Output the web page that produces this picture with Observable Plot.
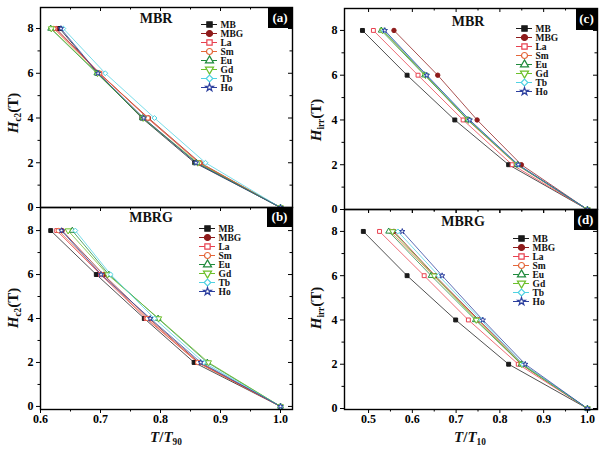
<!DOCTYPE html>
<html>
<head>
<meta charset="utf-8">
<script src="https://cdn.jsdelivr.net/npm/d3@7"></script>
<script src="https://cdn.jsdelivr.net/npm/@observablehq/plot@0.6"></script>
<style>
  body { margin: 0; background: #fff; }
  #fig { position: relative; width: 601px; height: 450px; overflow: hidden; background: #fff;
         font-family: "Liberation Serif", "Times New Roman", serif; font-weight: bold; color: #111; }
  #fig svg { position: absolute; overflow: visible; background: transparent; }
  .ytitle { position: absolute; transform: translate(-50%, -50%) rotate(-90deg); white-space: nowrap;
            font-size: 15px; line-height: 1; }
  .xtitle { position: absolute; transform: translate(-50%, -50%); white-space: nowrap; font-size: 15px; line-height: 1; }
  .sub { font-size: 0.62em; position: relative; top: 0.35em; font-style: normal; }
  .tag { position: absolute; background: #000; color: #fff; font-size: 13px; display: flex;
         align-items: center; justify-content: center; }
  .ttl { position: absolute; transform: translate(-50%, -50%); font-size: 14px; white-space: nowrap; }
</style>
</head>
<body>
<div id="fig"></div>
<script>
// Samples (legend order), colours and markers
const samples = ["MB", "MBG", "La", "Sm", "Eu", "Gd", "Tb", "Ho"];
const colors  = ["#1a1a1a", "#8e1b1b", "#e8404f", "#e4673a", "#1f8a3c", "#6cbf2a", "#4fd2e2", "#2c3f9e"];
const fills   = ["#1a1a1a", "#8e1b1b", "#fff", "#fff", "#fff", "#fff", "#fff", "#fff"];

// Magnetic field levels (T) at which the reduced temperature was taken
const fields = [8, 6, 4, 2, 0];

// Reduced temperature per sample (rows follow `samples`, columns follow `fields`)
const hc2MBR = [
  [0.632, 0.695, 0.769, 0.857, 1.0],
  [0.626, 0.698, 0.780, 0.866, 1.0],
  [0.624, 0.699, 0.778, 0.864, 1.0],
  [0.622, 0.698, 0.779, 0.865, 1.0],
  [0.617, 0.694, 0.770, 0.860, 1.0],
  [0.618, 0.695, 0.771, 0.862, 1.0],
  [0.638, 0.708, 0.790, 0.875, 1.0],
  [0.634, 0.696, 0.772, 0.859, 1.0]
];
const hc2MBRG = [
  [0.617, 0.693, 0.773, 0.856, 1.0],
  [0.636, 0.705, 0.781, 0.864, 1.0],
  [0.627, 0.700, 0.776, 0.862, 1.0],
  [0.630, 0.702, 0.778, 0.862, 1.0],
  [0.653, 0.714, 0.796, 0.878, 1.0],
  [0.646, 0.712, 0.797, 0.880, 1.0],
  [0.658, 0.717, 0.790, 0.872, 1.0],
  [0.635, 0.701, 0.783, 0.867, 1.0]
];
const hirrMBR = [
  [0.486, 0.588, 0.697, 0.820, 1.0],
  [0.558, 0.658, 0.748, 0.849, 1.0],
  [0.511, 0.613, 0.716, 0.828, 1.0],
  [0.533, 0.630, 0.726, 0.838, 1.0],
  [0.529, 0.628, 0.727, 0.840, 1.0],
  [0.532, 0.630, 0.728, 0.840, 1.0],
  [0.535, 0.632, 0.730, 0.841, 1.0],
  [0.537, 0.633, 0.731, 0.842, 1.0]
];
const hirrMBRG = [
  [0.488, 0.588, 0.699, 0.820, 1.0],
  [0.558, 0.652, 0.752, 0.852, 1.0],
  [0.525, 0.627, 0.728, 0.842, 1.0],
  [0.550, 0.648, 0.750, 0.848, 1.0],
  [0.546, 0.643, 0.744, 0.849, 1.0],
  [0.555, 0.650, 0.746, 0.850, 1.0],
  [0.567, 0.660, 0.757, 0.853, 1.0],
  [0.577, 0.668, 0.761, 0.858, 1.0]
];

// Axis ticks
const yTicks = [0, 2, 4, 6, 8];
const yMinor = [1, 3, 5, 7];
const xTicksT90 = [0.6, 0.7, 0.8, 0.9, 1.0];
const xMinorT90 = [0.65, 0.75, 0.85, 0.95];
const xTicksT10 = [0.5, 0.6, 0.7, 0.8, 0.9, 1.0];
const xMinorT10 = [0.55, 0.65, 0.75, 0.85, 0.95];

// Downward-pointing triangle (d3 only ships the upward one)
const sqrt3 = Math.sqrt(3);
const triangleDown = {
  draw(context, size) {
    const y = -Math.sqrt(size / (sqrt3 * 3));
    context.moveTo(0, -y * 2);
    context.lineTo(-sqrt3 * y, y);
    context.lineTo(sqrt3 * y, y);
    context.closePath();
  }
};
const symbols = ["square", "circle", "square", "circle", "triangle", triangleDown, "diamond2", "star"];
const fillOf = Object.fromEntries(samples.map((s, i) => [s, fills[i]]));
const isStar = s => s === "Ho";   // the star glyph spreads wider, so it is drawn a little smaller

function toRows(table) {
  return samples.flatMap((s, i) => fields.map((f, j) => ({sample: s, field: f, t: table[i][j]})));
}

const fig = document.getElementById("fig");
const font = {fontFamily: "'Liberation Serif', 'Times New Roman', serif", fontWeight: "bold", fontSize: "12px"};

function panel(table, cfg) {
  const rows = toRows(table);
  const fw = cfg.width - cfg.ml - cfg.mr;
  const fh = cfg.height - cfg.mt - cfg.mb;
  const kx = (cfg.x[1] - cfg.x[0]) / fw;   // data units per pixel
  const ky = (cfg.y[1] - cfg.y[0]) / fh;
  const fmt = cfg.labels ? d3.format(".1f") : () => "";
  const dotOpts = {x: "t", y: "field", symbol: "sample", stroke: "sample", fill: d => fillOf[d.sample], strokeWidth: 1};
  const svg = Plot.plot({
    width: cfg.width, height: cfg.height,
    marginLeft: cfg.ml, marginRight: cfg.mr, marginTop: cfg.mt, marginBottom: cfg.mb,
    style: font,
    x: {domain: cfg.x},
    y: {domain: cfg.y},
    color: {domain: samples, range: colors},
    symbol: {domain: samples, range: symbols},
    marks: [
      Plot.line(rows, {x: "t", y: "field", z: "sample", stroke: "sample", strokeWidth: 0.9, strokeOpacity: 0.85}),
      Plot.dot(rows, {...dotOpts, filter: d => !isStar(d.sample), r: 2.2}),
      Plot.dot(rows, {...dotOpts, filter: d => isStar(d.sample), r: 1.7}),
      // inward ticks on the top and right edges
      Plot.ruleX(cfg.xt, {x: d => d, y1: cfg.y[1], y2: cfg.y[1] - 4 * ky, stroke: "#000"}),
      Plot.ruleX(cfg.xm, {x: d => d, y1: cfg.y[1], y2: cfg.y[1] - 2.5 * ky, stroke: "#000"}),
      Plot.ruleY(yTicks, {y: d => d, x1: cfg.x[1], x2: cfg.x[1] - 4 * kx, stroke: "#000"}),
      Plot.ruleY(yMinor, {y: d => d, x1: cfg.x[1], x2: cfg.x[1] - 2.5 * kx, stroke: "#000"}),
      Plot.axisY(yTicks, {tickSize: 4, tickPadding: 3, label: null, stroke: "#000", fill: "#000", fontSize: 12}),
      Plot.axisY(yMinor, {tickSize: 2.5, tickFormat: () => "", label: null, stroke: "#000"}),
      Plot.axisX(cfg.xt, {tickSize: 4, tickPadding: 1, tickFormat: fmt, label: null, stroke: "#000", fill: "#000", fontSize: 12}),
      Plot.axisX(cfg.xm, {tickSize: 2.5, tickFormat: () => "", label: null, stroke: "#000"}),
      Plot.frame({stroke: "#000", strokeWidth: 1.4})
    ]
  });
  svg.style.left = cfg.left + "px";
  svg.style.top = cfg.top + "px";
  fig.appendChild(svg);
}

function legend(cfg) {
  const dotOpts = {x: 10, y: d => d, symbol: d => d, stroke: d => d, fill: d => fillOf[d], strokeWidth: 1.2};
  const svg = Plot.plot({
    width: 60, height: Math.round(cfg.gap * 7 + 12),
    margin: 0,
    style: {...font, fontSize: "9.5px"},
    x: {domain: [0, 60], range: [0, 60], axis: null},
    y: {type: "point", domain: samples, range: [6, 6 + cfg.gap * 7], axis: null},
    color: {domain: samples, range: colors},
    symbol: {domain: samples, range: symbols},
    marks: [
      Plot.ruleY(samples, {y: d => d, x1: 2, x2: 18, stroke: d => d, strokeWidth: 1}),
      Plot.dot(samples, {...dotOpts, filter: d => !isStar(d), r: 3}),
      Plot.dot(samples, {...dotOpts, filter: d => isStar(d), r: 2.4}),
      Plot.text(samples, {x: 21, y: d => d, text: d => d, textAnchor: "start", fill: "#111"})
    ]
  });
  svg.style.left = (cfg.cx - 10) + "px";
  svg.style.top = (cfg.cy - 6) + "px";
  fig.appendChild(svg);
}

function html(cls, style, inner) {
  const el = document.createElement("div");
  el.className = cls;
  Object.assign(el.style, style);
  el.innerHTML = inner;
  fig.appendChild(el);
}

// (a) Hc2, MBR
panel(hc2MBR,  {left: 0,   top: 0,   width: 300, height: 210, ml: 40, mr: 8, mt: 7, mb: 3,
                x: [0.6, 1.02], y: [0, 8.94], xt: xTicksT90, xm: xMinorT90, labels: false});
// (b) Hc2, MBRG
panel(hc2MBRG, {left: 0,   top: 207, width: 300, height: 243, ml: 40, mr: 8, mt: 0, mb: 41,
                x: [0.6, 1.02], y: [-0.14, 9.05], xt: xTicksT90, xm: xMinorT90, labels: true});
// (c) Hirr, MBR
panel(hirrMBR, {left: 300, top: 0,   width: 301, height: 211, ml: 44, mr: 4, mt: 8, mb: 2,
                x: [0.445, 1.023], y: [0, 8.98], xt: xTicksT10, xm: xMinorT10, labels: false});
// (d) Hirr, MBRG
panel(hirrMBRG,{left: 300, top: 209, width: 301, height: 241, ml: 44, mr: 4, mt: 0, mb: 41,
                x: [0.445, 1.023], y: [-0.045, 8.99], xt: xTicksT10, xm: xMinorT10, labels: true});

legend({cx: 209, cy: 16,  gap: 11.4});
legend({cx: 207, cy: 220, gap: 11.4});
legend({cx: 524, cy: 21,  gap: 11.1});
legend({cx: 521, cy: 230, gap: 11.3});

// Panel titles and tags
html("ttl", {left: "156px", top: "19px"},  "MBR");
html("ttl", {left: "151px", top: "218px"}, "MBRG");
html("ttl", {left: "468px", top: "22px"},  "MBR");
html("ttl", {left: "463px", top: "222px"}, "MBRG");
html("tag", {left: "268px", top: "7px",   width: "24px", height: "21px"}, "(a)");
html("tag", {left: "267px", top: "207px", width: "25px", height: "20px"}, "(b)");
html("tag", {left: "576px", top: "8px",   width: "21px", height: "22px"}, "(c)");
html("tag", {left: "574px", top: "209px", width: "23px", height: "21px"}, "(d)");

// Axis titles
html("ytitle", {left: "13px",  top: "113px"}, "<i>H</i><span class='sub'>c2</span>(T)");
html("ytitle", {left: "13px",  top: "308px"}, "<i>H</i><span class='sub'>c2</span>(T)");
html("ytitle", {left: "316px", top: "120px"}, "<i>H</i><span class='sub'>irr</span>(T)");
html("ytitle", {left: "316px", top: "308px"}, "<i>H</i><span class='sub'>irr</span>(T)");
html("xtitle", {left: "166px", top: "437px"}, "<i>T</i>/<i>T</i><span class='sub'>90</span>");
html("xtitle", {left: "470px", top: "437px"}, "<i>T</i>/<i>T</i><span class='sub'>10</span>");
</script>
</body>
</html>
